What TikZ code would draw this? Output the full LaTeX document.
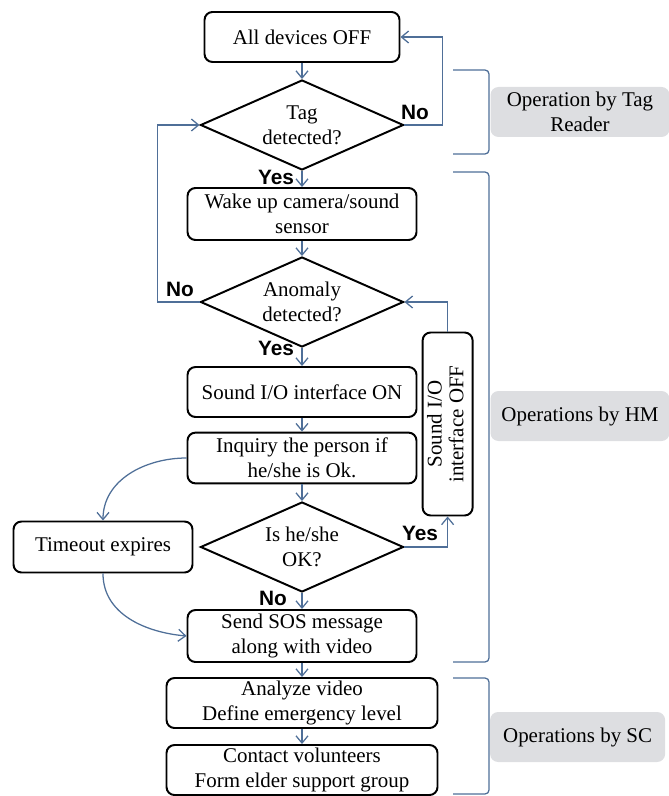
\documentclass[tikz,border=0pt]{standalone}
\usepackage{fontspec}
\setmainfont{Liberation Serif}
\newfontfamily\yesnofont{Liberation Sans}
\usetikzlibrary{shapes.geometric,arrows.meta}

\definecolor{flowblue}{RGB}{79,111,152}
\definecolor{grpgray}{RGB}{221,222,225}

\tikzset{
  proc/.style={draw, line width=1.4pt, rounded corners=2mm, align=center, inner sep=1pt,
    minimum width=5.725cm, minimum height=1.3cm},
  decis/.style={draw, diamond, line width=1.4pt, aspect=2.25, inner sep=0pt, align=center,
    minimum width=5.075cm, minimum height=2.25cm},
  yn/.style={font=\yesnofont\bfseries\fontsize{14.8}{16}\selectfont},
  grp/.style={fill=grpgray, rounded corners=2mm, align=center, inner sep=1pt,
    minimum width=4.475cm, minimum height=1.25cm},
  flow/.style={draw=flowblue, line width=0.9pt, -{Straight Barb[length=1.8mm,width=3mm]}},
  brk/.style={draw=flowblue, line width=0.9pt, rounded corners=1mm}
}

\begin{document}
\begin{tikzpicture}[font=\fontsize{14.9}{17.5}\selectfont]

  \useasboundingbox (0,0) rectangle (16.725,-19.9);

  % main flow
  \node[proc, minimum width=4.875cm, minimum height=1.25cm] (off) at (7.55,-0.925) {All devices OFF};
  \node[decis] (tag) at (7.55,-3.125) {Tag\\detected?};
  \node[proc] (wake) at (7.55,-5.35) {Wake up camera/sound\\sensor};
  \node[decis] (anom) at (7.55,-7.55) {Anomaly\\detected?};
  \node[proc, minimum height=1.25cm] (son) at (7.55,-9.8) {Sound I/O interface ON};
  \node[proc, minimum height=1.27cm] (inq) at (7.55,-11.45) {Inquiry the person if\\he/she is Ok.};
  \node[decis] (isok) at (7.55,-13.675) {Is he/she\\OK?};
  \node[proc] (sos) at (7.55,-15.9) {Send SOS message\\along with video};
  \node[proc, minimum width=6.775cm, minimum height=1.25cm] (anl) at (7.55,-17.575) {Analyze video\\Define emergency level};
  \node[proc, minimum width=6.775cm, minimum height=1.25cm] (cnt) at (7.55,-19.25) {Contact volunteers\\Form elder support group};

  \node[proc, minimum width=4.475cm, minimum height=1.275cm] (tmo) at (2.575,-13.675) {Timeout expires};
  \node[proc, minimum width=1.25cm, minimum height=4.575cm] (soff) at (11.19,-10.6)
    {\rotatebox{90}{\begin{tabular}{@{}c@{}}Sound I/O\\[-2pt]interface OFF\end{tabular}}};

  % yes / no
  \node[yn] (yes1) at (6.9,-4.425) {Yes};
  \node[yn] (no1) at (10.375,-2.8) {No};
  \node[yn] (no2) at (4.5,-7.225) {No};
  \node[yn] (yes2) at (6.9,-8.7) {Yes};
  \node[yn] (yes3) at (10.5,-13.325) {Yes};
  \node[yn] (no3) at (6.825,-14.95) {No};

  \draw[flow] (off) -- (tag);
  \draw[flow] (tag) -- (wake);
  \draw[flow] (tag.east) -- ++(0.95,0) |- (off.east);
  \draw[flow] (wake) -- (anom);
  \draw[flow] (anom.west) -- ++(-1.05,0) |- (tag.west);
  \draw[flow] (anom) -- (son);
  \draw[flow] (son) -- (inq);
  \draw[flow] (inq) -- (isok);
  \draw[flow] (isok) -- (sos);
  \draw[flow] (isok.east) -| (soff.south);
  \draw[flow] (soff.north) |- (anom.east);
  \draw[flow] (inq.west) to[out=180,in=90] (tmo.north);
  \draw[flow] (tmo.south) to[out=-90,in=175] (sos.west);
  \draw[flow] (sos) -- (anl);
  \draw[flow] (anl) -- (cnt);

  % groups
  \draw[brk] (11.325,-1.75) -- (12.225,-1.75) -- (12.225,-3.85) -- (11.325,-3.85);
  \draw[brk] (11.325,-4.3) -- (12.225,-4.3) -- (12.225,-16.55) -- (11.325,-16.55);
  \draw[brk] (11.325,-16.95) -- (12.225,-16.95) -- (12.225,-19.85) -- (11.325,-19.85);

  \node[grp] (gtag) at (14.5,-2.8) {Operation by Tag\\Reader};
  \node[grp] (ghm) at (14.5,-10.4) {Operations by HM};
  \node[grp, minimum width=4.375cm] (gsc) at (14.44,-18.425) {Operations by SC};

\end{tikzpicture}
\end{document}
